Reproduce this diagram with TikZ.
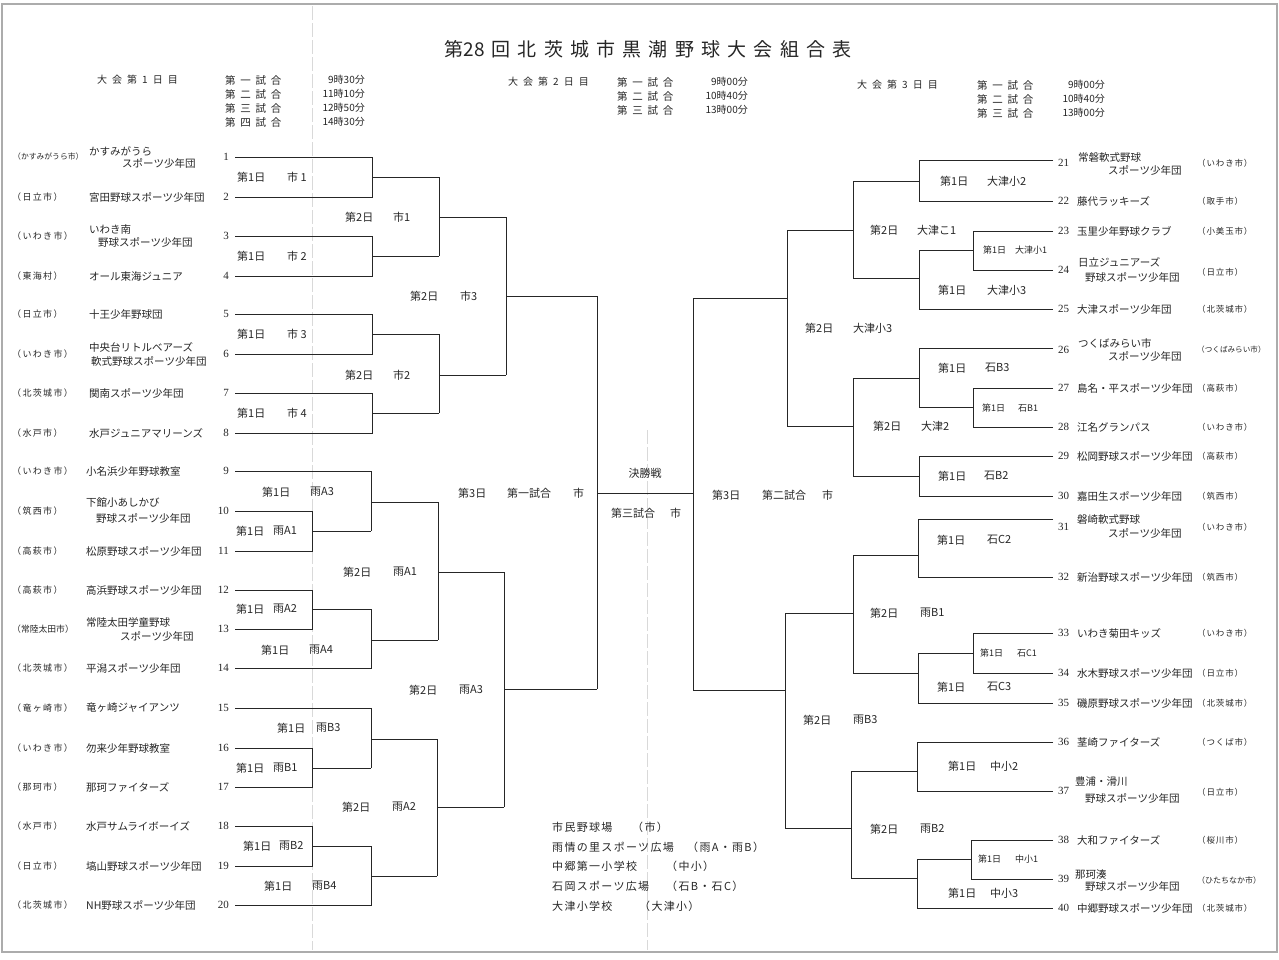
\documentclass[tikz,border=0pt]{standalone}
\usepackage{fontspec}
\newfontfamily\jp{Noto Sans CJK JP}
\newfontfamily\numf{Liberation Serif}
\tikzset{
  br/.style={line width=0.9pt, draw=black!85},
  fold/.style={line width=0.5pt, draw=gray!30, dash pattern=on 14pt off 3pt},
  lab/.style={anchor=west, inner sep=0pt, text=black!85, font=\jp\fontsize{11}{11}\selectfont},
  slab/.style={anchor=west, inner sep=0pt, text=black!85, font=\jp\fontsize{9}{9}\selectfont},
  team/.style={anchor=west, inner sep=0pt, text=black!85, font=\jp\fontsize{10.5}{10.5}\selectfont},
  cityL/.style={anchor=west, inner sep=0pt, text=black!85, font=\jp\fontsize{9}{9}\selectfont\addfontfeature{LetterSpace=15}},
  cityR/.style={anchor=west, inner sep=0pt, text=black!85, font=\jp\fontsize{8.5}{8.5}\selectfont\addfontfeature{LetterSpace=10}},
  seedL/.style={anchor=east, inner sep=0pt, text=black!85, font=\numf\fontsize{11}{11}\selectfont},
  seedR/.style={anchor=west, inner sep=0pt, text=black!85, font=\numf\fontsize{11}{11}\selectfont},
  hday/.style={anchor=west, inner sep=0pt, text=black!85, font=\jp\fontsize{10}{10}\selectfont\addfontfeature{LetterSpace=50}},
  hgame/.style={anchor=west, inner sep=0pt, text=black!85, font=\jp\fontsize{10.5}{10.5}\selectfont\addfontfeature{LetterSpace=45}},
  htime/.style={anchor=east, inner sep=0pt, text=black!85, font=\jp\fontsize{10}{10}\selectfont},
  leg/.style={anchor=west, inner sep=0pt, text=black!85, font=\jp\fontsize{11}{11}\selectfont\addfontfeature{LetterSpace=12}},
}
\newcommand\Lb[6]{\node[lab] (#1a) at (#2,#4) {#5}; \node[lab] (#1b) at (#3,#4) {#6};}
\newcommand\Ls[6]{\node[slab] (#1a) at (#2,#4) {#5}; \node[slab] (#1b) at (#3,#4) {#6};}
\begin{document}
\begin{tikzpicture}[x=1pt,y=-1pt]
\useasboundingbox (0,0) rectangle (1279,959);
\fill[white] (0,0) rectangle (1279,959);
\draw[gray!65, line width=2pt] (2,4) rectangle (1277,952);
\draw[fold] (312,6) -- (312,950);
\draw[fold] (647,430) -- (647,950);

% ---------- title and headers ----------
\node[inner sep=0pt, text=black!85, font=\jp\fontsize{19}{19}\selectfont\addfontfeature{LetterSpace=38}] (title) at (648,49) {第{\addfontfeature{LetterSpace=0}28}\hspace{7pt}回北茨城市黒潮野球大会組合表};

\node[hday] (d1) at (97,80) {大会第1日目};
\node[hgame] (d1g1) at (225,80) {第一試合};
\node[hgame] (d1g2) at (225,94) {第二試合};
\node[hgame] (d1g3) at (225,108) {第三試合};
\node[hgame] (d1g4) at (225,122) {第四試合};
\node[htime] (d1t1) at (365,80) {9時30分};
\node[htime] (d1t2) at (365,94) {11時10分};
\node[htime] (d1t3) at (365,108) {12時50分};
\node[htime] (d1t4) at (365,122) {14時30分};

\node[hday] (d2) at (508,82) {大会第2日目};
\node[hgame] (d2g1) at (617,82) {第一試合};
\node[hgame] (d2g2) at (617,96) {第二試合};
\node[hgame] (d2g3) at (617,110) {第三試合};
\node[htime] (d2t1) at (748,82) {9時00分};
\node[htime] (d2t2) at (748,96) {10時40分};
\node[htime] (d2t3) at (748,110) {13時00分};

\node[hday] (d3) at (857,85) {大会第3日目};
\node[hgame] (d3g1) at (977,85) {第一試合};
\node[hgame] (d3g2) at (977,99) {第二試合};
\node[hgame] (d3g3) at (977,113) {第三試合};
\node[htime] (d3t1) at (1105,85) {9時00分};
\node[htime] (d3t2) at (1105,99) {10時40分};
\node[htime] (d3t3) at (1105,113) {13時00分};

% ---------- left bracket lines ----------
\draw[br] (235,157) -- (372,157) -- (372,197) -- (235,197);
\draw[br] (372,177) -- (439,177);
\draw[br] (235,236) -- (372,236) -- (372,276) -- (235,276);
\draw[br] (372,256) -- (439,256);
\draw[br] (439,177) -- (439,256);
\draw[br] (439,217) -- (506,217);
\draw[br] (235,314) -- (372,314) -- (372,354) -- (235,354);
\draw[br] (372,334) -- (439,334);
\draw[br] (235,393) -- (372,393) -- (372,433) -- (235,433);
\draw[br] (372,413) -- (439,413);
\draw[br] (439,334) -- (439,413);
\draw[br] (439,375) -- (506,375);
\draw[br] (506,217) -- (506,375);
\draw[br] (506,296) -- (597,296);

\draw[br] (235,511) -- (312,511) -- (312,551) -- (235,551);
\draw[br] (312,531) -- (371,531);
\draw[br] (235,471) -- (371,471) -- (371,531);
\draw[br] (371,502) -- (438,502);
\draw[br] (235,590) -- (312,590) -- (312,629) -- (235,629);
\draw[br] (312,609) -- (371,609);
\draw[br] (235,668) -- (371,668) -- (371,609);
\draw[br] (371,640) -- (438,640);
\draw[br] (438,502) -- (438,640);
\draw[br] (438,572) -- (504,572);
\draw[br] (235,708) -- (371,708) -- (371,768);
\draw[br] (235,748) -- (312,748) -- (312,787) -- (235,787);
\draw[br] (312,768) -- (371,768);
\draw[br] (371,739) -- (437,739);
\draw[br] (235,826) -- (312,826) -- (312,866) -- (235,866);
\draw[br] (312,846) -- (371,846);
\draw[br] (235,905) -- (371,905) -- (371,846);
\draw[br] (371,876) -- (437,876);
\draw[br] (437,739) -- (437,876);
\draw[br] (437,807) -- (504,807);
\draw[br] (504,572) -- (504,807);
\draw[br] (504,689) -- (597,689);
\draw[br] (597,296) -- (597,689);
\draw[br] (597,493) -- (693,493);
\draw[br] (693,298) -- (693,690);

% ---------- right bracket lines ----------
\draw[br] (693,298) -- (787,298);
\draw[br] (787,230) -- (787,426);
\draw[br] (787,230) -- (853,230);
\draw[br] (853,181) -- (853,278);
\draw[br] (853,181) -- (919,181);
\draw[br] (1053,160) -- (919,160) -- (919,201) -- (1053,201);
\draw[br] (853,278) -- (919,278);
\draw[br] (919,250) -- (919,309) -- (1053,309);
\draw[br] (919,250) -- (973,250);
\draw[br] (1053,231) -- (973,231) -- (973,270) -- (1053,270);
\draw[br] (787,426) -- (853,426);
\draw[br] (853,378) -- (853,476);
\draw[br] (853,378) -- (919,378);
\draw[br] (1053,348) -- (919,348) -- (919,407);
\draw[br] (919,407) -- (973,407);
\draw[br] (1053,388) -- (973,388) -- (973,427) -- (1053,427);
\draw[br] (853,476) -- (919,476);
\draw[br] (1053,456) -- (919,456) -- (919,496) -- (1053,496);

\draw[br] (693,690) -- (785,690);
\draw[br] (785,613) -- (785,828);
\draw[br] (785,613) -- (853,613);
\draw[br] (853,555) -- (853,673);
\draw[br] (853,555) -- (918,555);
\draw[br] (1053,519) -- (918,519) -- (918,577) -- (1053,577);
\draw[br] (853,673) -- (918,673);
\draw[br] (918,653) -- (918,703) -- (1053,703);
\draw[br] (918,653) -- (973,653);
\draw[br] (1053,633) -- (973,633) -- (973,673) -- (1053,673);
\draw[br] (785,828) -- (851,828);
\draw[br] (851,771) -- (851,878);
\draw[br] (851,771) -- (917,771);
\draw[br] (1053,742) -- (917,742) -- (917,791) -- (1053,791);
\draw[br] (851,878) -- (917,878);
\draw[br] (917,859) -- (917,908) -- (1053,908);
\draw[br] (917,859) -- (971,859);
\draw[br] (1053,840) -- (971,840) -- (971,879) -- (1053,879);

% ---------- match labels ----------
\Lb{m1}{237}{287}{177}{第1日}{市 1}
\Lb{m2}{237}{287}{256}{第1日}{市 2}
\Lb{m3}{237}{287}{334}{第1日}{市 3}
\Lb{m4}{237}{287}{413}{第1日}{市 4}
\Lb{m5}{345}{393}{217}{第2日}{市1}
\Lb{m6}{345}{393}{375}{第2日}{市2}
\Lb{m7}{410}{460}{296}{第2日}{市3}
\Lb{m8}{262}{310}{492}{第1日}{雨A3}
\Lb{m9}{236}{273}{531}{第1日}{雨A1}
\Lb{m10}{236}{273}{609}{第1日}{雨A2}
\Lb{m11}{261}{309}{650}{第1日}{雨A4}
\Lb{m12}{343}{393}{572}{第2日}{雨A1}
\Lb{m13}{277}{316}{728}{第1日}{雨B3}
\Lb{m14}{236}{273}{768}{第1日}{雨B1}
\Lb{m15}{243}{279}{846}{第1日}{雨B2}
\Lb{m16}{264}{312}{886}{第1日}{雨B4}
\Lb{m17}{342}{392}{807}{第2日}{雨A2}
\Lb{m18}{409}{459}{690}{第2日}{雨A3}
\Lb{m19}{458}{507}{493}{第3日}{第一試合}
\node[lab] (m19c) at (573,493) {市};
\node[lab, anchor=center] (fin) at (645,473) {決勝戦};
\Lb{m20}{611}{670}{513}{第三試合}{市}
\Lb{m21}{712}{762}{495}{第3日}{第二試合}
\node[lab] (m21c) at (822,495) {市};
\Lb{m22}{805}{853}{328}{第2日}{大津小3}
\Lb{m23}{870}{917}{230}{第2日}{大津こ1}
\Lb{m24}{940}{987}{181}{第1日}{大津小2}
\Ls{m25}{983}{1015}{250}{第1日}{大津小1}
\Lb{m26}{938}{987}{290}{第1日}{大津小3}
\Lb{m27}{938}{985}{368}{第1日}{石B3}
\Ls{m28}{982}{1018}{408}{第1日}{石B1}
\Lb{m29}{938}{984}{476}{第1日}{石B2}
\Lb{m30}{873}{921}{426}{第2日}{大津2}
\Lb{m31}{937}{987}{540}{第1日}{石C2}
\Ls{m32}{980}{1017}{653}{第1日}{石C1}
\Lb{m33}{937}{987}{687}{第1日}{石C3}
\Lb{m34}{870}{920}{613}{第2日}{雨B1}
\Lb{m35}{948}{990}{766}{第1日}{中小2}
\Ls{m36}{978}{1015}{859}{第1日}{中小1}
\Lb{m37}{948}{990}{893}{第1日}{中小3}
\Lb{m38}{870}{920}{829}{第2日}{雨B2}
\Lb{m39}{803}{853}{720}{第2日}{雨B3}

% ---------- left teams ----------
\foreach \n/\y in {1/157,2/197,3/236,4/276,5/314,6/354,7/393,8/433,9/471,10/511,11/551,12/590,13/629,14/668,15/708,16/748,17/787,18/826,19/866,20/905}
  \node[seedL] (n\n) at (229,\y) {\n};
\node[cityL, font=\jp\fontsize{7.8}{7.8}\selectfont] (c1) at (13,157) {（かすみがうら市）};
\foreach \n/\y/\c in {2/197/日立市,3/236/いわき市,4/276/東海村,5/314/日立市,6/354/いわき市,7/393/北茨城市,8/433/水戸市,9/471/いわき市,10/511/筑西市,11/551/高萩市,12/590/高萩市,14/668/北茨城市,15/708/竜ヶ崎市,16/748/いわき市,17/787/那珂市,18/826/水戸市,19/866/日立市,20/905/北茨城市}
  \node[cityL] (c\n) at (12,\y) {（\c）};
\node[cityL, font=\jp\fontsize{8.8}{8.8}\selectfont] (c13) at (12,629) {（常陸太田市）};
\node[team] (t1a) at (89,151) {かすみがうら};
\node[team] (t1b) at (122,163) {スポーツ少年団};
\node[team] (t2) at (89,197) {宮田野球スポーツ少年団};
\node[team] (t3a) at (89,230) {いわき南};
\node[team] (t3b) at (98,242) {野球スポーツ少年団};
\node[team] (t4) at (89,276) {オール東海ジュニア};
\node[team] (t5) at (89,314) {十王少年野球団};
\node[team] (t6a) at (89,347) {中央台リトルベアーズ};
\node[team] (t6b) at (91,361) {軟式野球スポーツ少年団};
\node[team] (t7) at (89,393) {関南スポーツ少年団};
\node[team] (t8) at (89,433) {水戸ジュニアマリーンズ};
\node[team] (t9) at (86,471) {小名浜少年野球教室};
\node[team] (t10a) at (86,502) {下館小あしかび};
\node[team] (t10b) at (96,518) {野球スポーツ少年団};
\node[team] (t11) at (86,551) {松原野球スポーツ少年団};
\node[team] (t12) at (86,590) {高浜野球スポーツ少年団};
\node[team] (t13a) at (86,622) {常陸太田学童野球};
\node[team] (t13b) at (120,636) {スポーツ少年団};
\node[team] (t14) at (86,668) {平潟スポーツ少年団};
\node[team] (t15) at (86,708) {竜ヶ崎ジャイアンツ};
\node[team] (t16) at (86,748) {勿来少年野球教室};
\node[team] (t17) at (86,787) {那珂ファイターズ};
\node[team] (t18) at (86,826) {水戸サムライボーイズ};
\node[team] (t19) at (86,866) {塙山野球スポーツ少年団};
\node[team] (t20) at (86,905) {NH野球スポーツ少年団};

% ---------- right teams ----------
\foreach \n/\y in {21/163,22/201,23/231,24/270,25/309,26/350,27/388,28/427,29/456,30/496,31/527,32/577,33/633,34/673,35/703,36/742,37/791,38/840,39/879,40/908}
  \node[seedR] (n\n) at (1058,\y) {\n};
\foreach \n/\y/\c in {21/163/いわき市,22/201/取手市,23/231/小美玉市,24/272/日立市,25/309/北茨城市,27/388/高萩市,28/427/いわき市,29/456/高萩市,30/496/筑西市,31/527/いわき市,32/577/筑西市,33/633/いわき市,34/673/日立市,35/703/北茨城市,36/742/つくば市,37/792/日立市,38/840/桜川市,40/908/北茨城市}
  \node[cityR] (c\n) at (1197,\y) {（\c）};
\node[cityR, font=\jp\fontsize{7.6}{7.6}\selectfont] (c26) at (1197,350) {（つくばみらい市）};
\node[cityR, font=\jp\fontsize{8}{8}\selectfont] (c39) at (1197,880) {（ひたちなか市）};
\node[team] (t21a) at (1078,157) {常磐軟式野球};
\node[team] (t21b) at (1108,170) {スポーツ少年団};
\node[team] (t22) at (1077,201) {藤代ラッキーズ};
\node[team] (t23) at (1077,231) {玉里少年野球クラブ};
\node[team] (t24a) at (1078,262) {日立ジュニアーズ};
\node[team] (t24b) at (1085,277) {野球スポーツ少年団};
\node[team] (t25) at (1077,309) {大津スポーツ少年団};
\node[team] (t26a) at (1078,343) {つくばみらい市};
\node[team] (t26b) at (1108,356) {スポーツ少年団};
\node[team] (t27) at (1077,388) {島名・平スポーツ少年団};
\node[team] (t28) at (1077,427) {江名グランパス};
\node[team] (t29) at (1077,456) {松岡野球スポーツ少年団};
\node[team] (t30) at (1077,496) {嘉田生スポーツ少年団};
\node[team] (t31a) at (1077,519) {磐崎軟式野球};
\node[team] (t31b) at (1108,533) {スポーツ少年団};
\node[team] (t32) at (1077,577) {新治野球スポーツ少年団};
\node[team] (t33) at (1077,633) {いわき菊田キッズ};
\node[team] (t34) at (1077,673) {水木野球スポーツ少年団};
\node[team] (t35) at (1077,703) {磯原野球スポーツ少年団};
\node[team] (t36) at (1077,742) {茎崎ファイターズ};
\node[team] (t37a) at (1075,782) {豊浦・滑川};
\node[team] (t37b) at (1085,798) {野球スポーツ少年団};
\node[team] (t38) at (1077,840) {大和ファイターズ};
\node[team] (t39a) at (1075,874) {那珂湊};
\node[team] (t39b) at (1085,886) {野球スポーツ少年団};
\node[team] (t40) at (1077,908) {中郷野球スポーツ少年団};

% ---------- legend ----------
\node[leg] (g1) at (552,827) {市民野球場};
\node[leg] (g1b) at (632,827) {（市）};
\node[leg] (g2) at (552,847) {雨情の里スポーツ広場};
\node[leg] (g2b) at (687,847) {（雨A・雨B）};
\node[leg] (g3) at (552,866) {中郷第一小学校};
\node[leg] (g3b) at (666,866) {（中小）};
\node[leg] (g4) at (552,886) {石岡スポーツ広場};
\node[leg] (g4b) at (666,886) {（石B・石C）};
\node[leg] (g5) at (552,906) {大津小学校};
\node[leg] (g5b) at (639,906) {（大津小）};
\end{tikzpicture}
\end{document}
